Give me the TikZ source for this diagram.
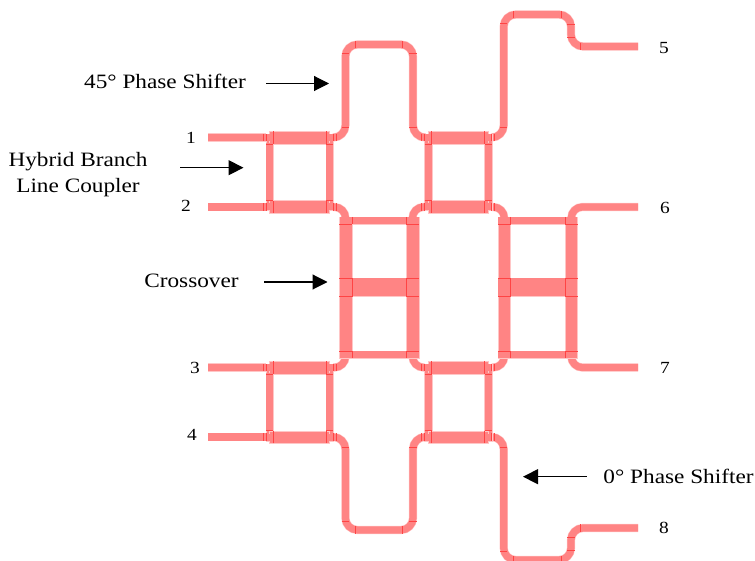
\documentclass[tikz,border=0pt]{standalone}
\usepackage{fontspec}
\setmainfont[FakeStretch=1.14]{Liberation Serif}
\usetikzlibrary{arrows.meta}
\definecolor{tracefill}{HTML}{FF8484}
\definecolor{traceline}{HTML}{FF4444}
\definecolor{tracesoft}{HTML}{FFC6C6}
\tikzset{
  trace/.style={draw=tracefill,line width=7.2pt,line cap=butt,line join=round,
    preaction={draw=tracesoft,line width=8.2pt}},
  bendy/.style={trace,rounded corners=#1},
  band/.style={fill=tracefill,draw=tracesoft,line width=0.4pt},
  seam/.style={draw=traceline,line width=0.5pt},
  lab/.style={font=\fontsize{20.4}{24}\selectfont,text=black,inner sep=0pt,align=center},
  num/.style={font=\fontsize{17}{20}\selectfont,text=black,inner sep=0pt},
  pointer/.style={draw=black,line width=1.1pt,-{Triangle[length=15pt,width=15pt]}}
}
% one branch line coupler, local origin at its upper left junction
\newcommand{\coupler}[2]{%
  \begin{scope}[shift={(#1,#2)}]
    \fill[band] (-3.7,-3.7) rectangle (3.7,73.2);
    \fill[band] (56.3,-3.7) rectangle (63.7,73.2);
    \path[band] (0,-6.3) rectangle (60,6.3);
    \path[band] (0,63.2) rectangle (60,75.8);
    \fill[tracefill] (-3.5,-3.5) rectangle (63.5,3.5);
    \fill[tracefill] (-3.5,66) rectangle (63.5,73);
    \fill[tracefill] (-3.5,6) rectangle (3.5,64);
    \fill[tracefill] (56.5,6) rectangle (63.5,64);
    \foreach \yy in {0,69.5}{
      \draw[seam] (-6.5,\yy-3.7) -- (-6.5,\yy+3.7);
      \draw[seam] (-3.5,\yy-3.7) -- (-3.5,\yy+3.7);
      \draw[seam] (3.5,\yy-6.3) -- (3.5,\yy+6.3);
      \draw[seam] (56.5,\yy-6.3) -- (56.5,\yy+6.3);
      \draw[seam] (63.5,\yy-3.7) -- (63.5,\yy+3.7);
      \draw[seam] (66.5,\yy-3.7) -- (66.5,\yy+3.7);
    }
    \draw[seam] (-3.5,6.3) -- (3.5,6.3) (56.5,6.3) -- (63.5,6.3);
    \draw[seam] (-3.5,63.2) -- (3.5,63.2) (56.5,63.2) -- (63.5,63.2);
  \end{scope}}
% one crossover, local origin at its upper left junction
\newcommand{\crossing}[2]{%
  \begin{scope}[shift={(#1,#2)}]
    \path[band] (-6.3,-3.7) rectangle (73.3,3.7);
    \path[band] (-6.3,130.3) rectangle (73.3,137.7);
    \path[band] (-6.3,57.5) rectangle (73.3,76.2);
    \path[band] (-6.3,-3.7) rectangle (6.3,137.7);
    \path[band] (60.7,-3.7) rectangle (73.3,137.7);
    \fill[tracefill] (-6,-3.4) rectangle (73,3.4);
    \fill[tracefill] (-6,130.6) rectangle (73,137.4);
    \fill[tracefill] (-6,57.8) rectangle (73,75.9);
    \foreach \xx in {6.3,60.7}{
      \draw[seam] (\xx,-3.7) -- (\xx,3.7);
      \draw[seam] (\xx,130.3) -- (\xx,137.7);
      \draw[seam] (\xx,57.5) -- (\xx,76.2);
    }
    \foreach \xx in {-6.3,60.7}{
      \draw[seam] (\xx,3.7) -- (\xx+12.6,3.7);
      \draw[seam] (\xx,130.3) -- (\xx+12.6,130.3);
      \draw[seam] (\xx,57.5) -- (\xx+12.6,57.5);
      \draw[seam] (\xx,76.2) -- (\xx+12.6,76.2);
    }
  \end{scope}}
% upper half of the circuit; the lower half is its mirror image
\newcommand{\halfcircuit}{%
  \draw[trace] (208,137.5) -- (266,137.5);
  \draw[trace] (208,207) -- (266,207);
  \draw[bendy=12pt] (333,137.5) -- (345.4,137.5) -- (345.4,44.5) -- (413,44.5) -- (413,137.5) -- (424.7,137.5);
  \draw[bendy=11pt] (333,207) -- (345.5,207) -- (345.5,218);
  \draw[bendy=11pt] (424.7,207) -- (412.5,207) -- (412.5,218);
  \draw[bendy=11pt] (491.7,207) -- (504.3,207) -- (504.3,218);
  \draw[bendy=11pt] (571.3,218) -- (571.3,207) -- (638,207);
  \draw[bendy=12pt] (491.7,137.5) -- (503.7,137.5) -- (503.7,14.5) -- (571,14.5) -- (571,46.5) -- (638,46.5);
  \coupler{269.5}{137.5}
  \coupler{428.2}{137.5}
  \draw[seam] (341.7,127) -- (349.1,127) (409.3,127) -- (416.7,127);
  \draw[seam] (341.7,53.5) -- (349.1,53.5) (409.3,53.5) -- (416.7,53.5);
  \draw[seam] (355.5,40.8) -- (355.5,48.2) (402.7,40.8) -- (402.7,48.2);
  \draw[seam] (500,127) -- (507.4,127) (500,23.5) -- (507.4,23.5);
  \draw[seam] (513.5,10.8) -- (513.5,18.2) (561.5,10.8) -- (561.5,18.2);
  \draw[seam] (567.3,24) -- (574.7,24) (567.3,37) -- (574.7,37);
  \draw[seam] (580.5,42.8) -- (580.5,50.2);
}
\begin{document}
\begin{tikzpicture}[x=1pt,y=-1pt]
  \useasboundingbox (0,0) rectangle (755,561);
  \halfcircuit
  \begin{scope}[shift={(0,574.5)},yscale=-1]
    \halfcircuit
  \end{scope}
  \crossing{345.5}{220.5}
  \crossing{504.3}{220.5}

  \node[lab] (lab45) at (165,81) {45° Phase Shifter};
  \node[lab] (labhyb) at (78,174.5) {Hybrid Branch\\[2pt]Line Coupler};
  \node[lab] (labcross) at (191.5,281) {Crossover};
  \node[lab] (lab0) at (678.5,476) {0° Phase Shifter};
  \node[num] (p1) at (191,138) {1};
  \node[num] (p2) at (186,206) {2};
  \node[num] (p3) at (195,368) {3};
  \node[num] (p4) at (192,435) {4};
  \node[num] (p5) at (664,48) {5};
  \node[num] (p6) at (665,208) {6};
  \node[num] (p7) at (665,368) {7};
  \node[num] (p8) at (664,528) {8};

  \coordinate (a45t) at (266,83.5);  \coordinate (a45h) at (329,83.5);
  \coordinate (ahybt) at (180,167.7); \coordinate (ahybh) at (243.5,167.7);
  \coordinate (acrt) at (264,282);   \coordinate (acrh) at (327.5,282);
  \coordinate (a0t) at (586.7,476.7); \coordinate (a0h) at (523,476.7);
  \draw[pointer] (a45t) -- (a45h);
  \draw[pointer] (ahybt) -- (ahybh);
  \draw[pointer] (acrt) -- (acrh);
  \draw[pointer] (a0t) -- (a0h);
\end{tikzpicture}
\end{document}
